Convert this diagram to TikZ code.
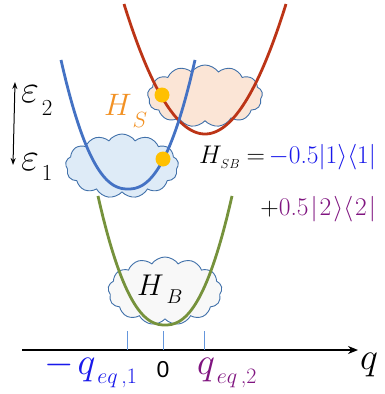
\RequirePackage{fix-cm}
\documentclass[tikz,border=0pt]{standalone}
\usepackage{fontspec}
\newfontfamily\sansf{Liberation Sans}
\usetikzlibrary{shapes.symbols,arrows.meta}
\definecolor{redc}{RGB}{188,52,22}
\definecolor{bluec}{RGB}{68,114,196}
\definecolor{greenc}{RGB}{118,146,60}
\definecolor{dotc}{RGB}{255,192,0}
\definecolor{cloudedge}{RGB}{65,113,170}
\definecolor{peach}{RGB}{251,229,214}
\definecolor{lblue}{RGB}{222,235,247}
\definecolor{offwhite}{RGB}{248,248,248}
\definecolor{tickc}{RGB}{100,150,220}
\definecolor{txtblue}{RGB}{25,25,235}
\definecolor{txtpurple}{RGB}{128,20,128}
\definecolor{txtorange}{RGB}{242,145,35}
\newcommand{\fs}[1]{\fontsize{#1}{#1}\selectfont}
\begin{document}
\begin{tikzpicture}[x=1pt,y=-1pt,
  cloudbox/.style={cloud, cloud puffs=13, cloud puff arc=110, cloud ignores aspect,
    draw=cloudedge, line width=0.9pt, inner sep=0pt},
  curve/.style={line width=2.8pt},
  dotnode/.style={circle, fill=dotc, minimum size=15pt, inner sep=0pt},
  tick/.style={draw=tickc, line width=0.9pt},
  lbl/.style={anchor=base west, inner sep=0pt, outer sep=0pt},
  rlbl/.style={anchor=base east, inner sep=0pt, outer sep=0pt}]
\useasboundingbox (0,0) rectangle (384,394);
\fill[white] (0,0) rectangle (384,394);

% bath cloud and green curve
\node[cloudbox, fill=offwhite, minimum width=114pt, minimum height=68pt] (cB) at (165,291) {};
\draw[curve, greenc] plot[domain=-67:67, samples=80] ({165+\x},{325-129*(abs(\x)/67+0.0001)^2.3});

% system clouds
\node[cloudbox, fill=peach, minimum width=115pt, minimum height=62pt] (cS) at (205,96) {};
\node[cloudbox, fill=lblue, minimum width=113pt, minimum height=64pt] (c1) at (122,166) {};

% red and blue curves
\draw[curve, redc] plot[domain=-81:81, samples=81] ({205+\x},{134-130*(\x/81)^2});
\draw[curve, bluec] plot[domain=-67:67, samples=80] ({128+\x},{189-129*(abs(\x)/67+0.0001)^2.3});

% dots
\node[dotnode] (d2) at (162,95) {};
\node[dotnode] (d1) at (163,159) {};

% energy arrow
\coordinate (eTop) at (15,82);
\coordinate (eBot) at (13,165);
\draw[line width=1pt, {Stealth[length=7pt,width=5pt]}-{Stealth[length=7pt,width=5pt]}] (eTop) -- (eBot);
\node[lbl] (eps2) at (21,102) {\fs{39}$\varepsilon$\kern3pt\raisebox{-13pt}{\fs{23}2}};
\node[lbl] (eps1) at (21,170) {\fs{39}$\varepsilon$\kern3pt\raisebox{-10pt}{\fs{23}1}};

% labels
\node[lbl, text=txtorange] (HS) at (104,115) {\fs{31}$H$\kern1pt\raisebox{-12pt}{\fs{22}$S$}};
\node[lbl] (HB) at (137,295) {\fs{30}$H$\kern3pt\raisebox{-8pt}{\fs{20}$B$}};

\node[rlbl] (HSB1) at (376,163) {\fs{25.5}$H$\kern-1pt\raisebox{-5pt}{\fs{13}$SB$}\hspace{7pt}$=$\hspace{4pt}\textcolor{txtblue}{$-$0.5$|$1$\rangle\langle$1$|$}};
\node[rlbl] (HSB2) at (376,215) {\fs{25.5}$+$\textcolor{txtpurple}{0.5\kern2pt$|$\kern2pt2\kern2pt$\rangle\langle$\kern2pt2\kern2pt$|$}};

% axis
\coordinate (ax0) at (22,350);
\coordinate (ax1) at (358,350);
\draw[line width=1.4pt, -{Stealth[length=10pt,width=8pt]}] (ax0) -- (ax1);
\draw[tick] (127,331) -- (127,350);
\draw[tick] (163,331) -- (163,350);
\draw[tick] (204,331) -- (204,350);

\node[lbl] (q) at (360,369) {\fs{38}$q$};
\node[lbl, text=txtblue] (qeq1) at (44,374) {\fs{38}$-$\hspace{4pt}$q$\kern2pt\raisebox{-9pt}{\fs{22}$eq$\,,1}};
\node[anchor=base, inner sep=0pt] (zero) at (163,377) {\sansf\fs{23}0};
\node[lbl, text=txtpurple] (qeq2) at (197,374) {\fs{38}$q$\kern2pt\raisebox{-9pt}{\fs{22}$eq$\,,2}};
\end{tikzpicture}
\end{document}
